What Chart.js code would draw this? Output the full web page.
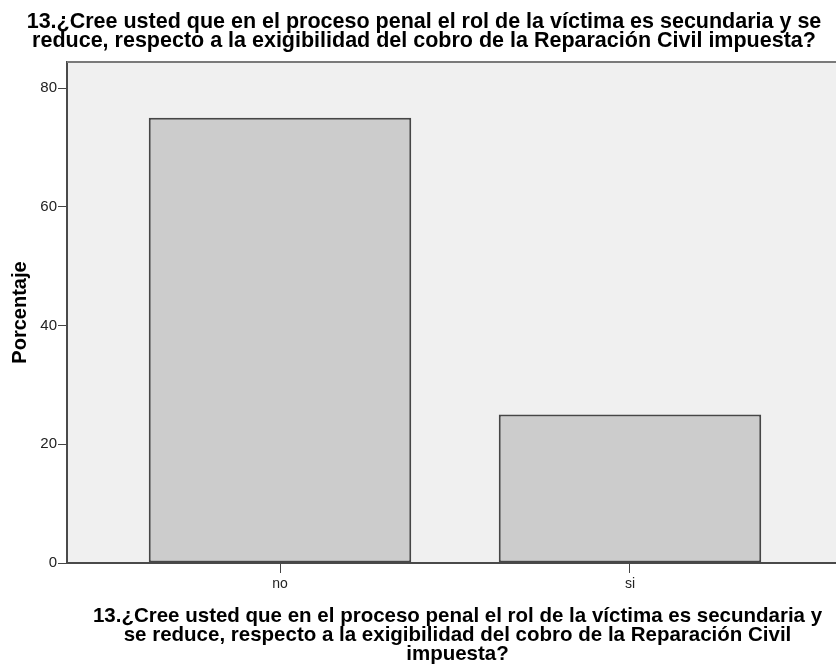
<!DOCTYPE html>
<html><head><meta charset="utf-8">
<script src="https://cdn.jsdelivr.net/npm/chart.js@4.4.1/dist/chart.umd.min.js"></script>
<style>
html,body{margin:0;padding:0;overflow:hidden;background:#fff;width:836px;height:664px}
#wrap{position:absolute;left:0;top:0;width:848px;height:664px}
</style>
</head><body><div id="wrap"><canvas id="c" width="848" height="664"></canvas></div>
<script>
const categories = ['no', 'si'];
const percentages = [75, 25];
const yTickValues = [0, 20, 40, 60, 80];
const chartTitle = [
  '13.¿Cree usted que en el proceso penal el rol de la víctima es secundaria y se',
  'reduce, respecto a la exigibilidad del cobro de la Reparación Civil impuesta?'
];
const xAxisTitle = [
  '13.¿Cree usted que en el proceso penal el rol de la víctima es secundaria y',
  'se reduce, respecto a la exigibilidad del cobro de la Reparación Civil',
  'impuesta?'
];
const yAxisTitle = 'Porcentaje';

const FONT = "'Liberation Sans', Arial, sans-serif";

const plotFrame = {
  id: 'plotFrame',
  beforeDraw(chart) {
    const {ctx, chartArea: a} = chart;
    ctx.save();
    ctx.fillStyle = '#f0f0f0';
    ctx.fillRect(a.left, a.top, a.right - a.left, a.bottom - a.top);
    ctx.restore();
  },
  afterDraw(chart) {
    const {ctx, chartArea: a} = chart;
    ctx.save();
    ctx.strokeStyle = '#7a7a7a';
    ctx.lineWidth = 2;
    ctx.beginPath();
    ctx.moveTo(a.left, a.top);
    ctx.lineTo(a.right, a.top);
    ctx.stroke();
    ctx.restore();
  }
};

new Chart(document.getElementById('c'), {
  type: 'bar',
  data: {
    datasets: [{
      data: categories.map((c, i) => ({x: i, y: percentages[i]})),
      backgroundColor: '#cccccc',
      borderColor: '#464646',
      borderWidth: 2,
      borderSkipped: false,
      barPercentage: 0.75,
      categoryPercentage: 1
    }]
  },
  options: {
    responsive: false,
    animation: false,
    devicePixelRatio: 1,
    layout: {padding: 0},
    plugins: {
      legend: {display: false},
      tooltip: {enabled: false},
      title: {
        display: true,
        text: chartTitle,
        color: '#000',
        font: {family: FONT, size: 21.5, weight: 'bold', lineHeight: '19px'},
        padding: {top: 13, bottom: 11}
      }
    },
    scales: {
      x: {
        type: 'linear',
        offset: false,
        min: -0.6086,
        max: 1.6229,
        afterBuildTicks(scale) { scale.ticks = categories.map((c, i) => ({value: i})); },
        afterFit(scale) { scale.height = 101; },
        ticks: {
          callback: (v) => categories[v],
          color: '#222',
          font: {family: FONT, size: 14},
          padding: 3,
          maxRotation: 0
        },
        grid: {display: true, offset: false, drawOnChartArea: false, drawTicks: true, tickLength: 10, color: '#444', lineWidth: 1},
        border: {display: true, color: '#4a4a4a', width: 2},
        title: {
          display: true,
          text: xAxisTitle,
          color: '#000',
          font: {family: FONT, size: 20.5, weight: 'bold', lineHeight: '19px'},
          padding: {top: 0, bottom: 0}
        }
      },
      y: {
        min: 0,
        max: 84.38,
        afterBuildTicks(scale) { scale.ticks = yTickValues.map(v => ({value: v})); },
        afterFit(scale) { scale.width = 67; },
        ticks: {
          color: '#222',
          font: {family: FONT, size: 15},
          padding: 1
        },
        grid: {display: true, drawOnChartArea: false, drawTicks: true, tickLength: 9, color: '#444', lineWidth: 1},
        border: {display: true, color: '#4a4a4a', width: 2},
        title: {
          display: true,
          text: yAxisTitle,
          color: '#000',
          font: {family: FONT, size: 20, weight: 'bold', lineHeight: '20px'},
          padding: {top: 10, bottom: 0}
        }
      }
    }
  },
  plugins: [plotFrame]
});
</script>
</body></html>
